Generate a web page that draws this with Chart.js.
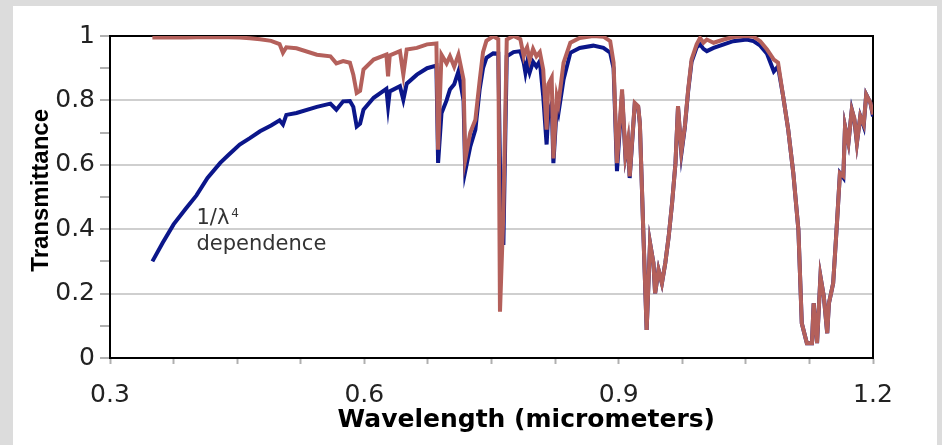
<!DOCTYPE html>
<html>
<head>
<meta charset="utf-8">
<title>Transmittance</title>
<script src="https://cdn.jsdelivr.net/npm/chart.js@4.4.1/dist/chart.umd.min.js"></script>
<style>
    html, body { margin: 0; padding: 0; background: #dcdcdc; }
    #card {
        position: absolute;
        left: 13px;
        top: 6px;
        width: 924px;
        height: 439px;
        background: #ffffff;
    }
</style>
</head>
<body>
<div id="card"><canvas id="transChart"></canvas></div>
<script>
/* ── TRANSMITTANCE CHART ── */

// 1. Data
const wavelength = [
    0.350, 0.362, 0.375, 0.390, 0.402, 0.415, 0.430, 0.440, 0.453, 0.465,
    0.477, 0.490, 0.500, 0.504, 0.508, 0.520,
    0.544, 0.560, 0.567, 0.575, 0.583, 0.587, 0.591, 0.595, 0.599, 0.611,
    0.626, 0.628, 0.630, 0.642, 0.646, 0.650, 0.662, 0.674, 0.685, 0.687,
    0.691, 0.697, 0.701, 0.706, 0.711, 0.717, 0.719, 0.725, 0.731, 0.736,
    0.740, 0.744, 0.752, 0.758, 0.760, 0.764, 0.768, 0.776, 0.784, 0.788,
    0.790, 0.792, 0.795, 0.799, 0.803, 0.807, 0.811, 0.815, 0.817, 0.821,
    0.823, 0.827, 0.829, 0.835, 0.843, 0.854, 0.870, 0.882, 0.890, 0.894,
    0.898, 0.904, 0.908, 0.911, 0.913, 0.919, 0.923, 0.925, 0.929, 0.933,
    0.937, 0.941, 0.943, 0.947, 0.951, 0.955, 0.959, 0.963, 0.967, 0.970,
    0.974, 0.978, 0.982, 0.986, 0.992, 0.996, 1.000, 1.004, 1.012, 1.024,
    1.035, 1.051, 1.059, 1.067, 1.075, 1.083, 1.088, 1.094, 1.100, 1.106,
    1.112, 1.116, 1.122, 1.128, 1.130, 1.134, 1.138, 1.142, 1.146, 1.148,
    1.153, 1.157, 1.161, 1.165, 1.167, 1.171, 1.175, 1.178, 1.181, 1.185,
    1.189, 1.192, 1.197, 1.200,
];

// blue: with Rayleigh scattering (1/λ^4)
const withRayleigh = [
    0.300, 0.357, 0.415, 0.466, 0.505, 0.559, 0.606, 0.631, 0.663, 0.683,
    0.704, 0.722, 0.738, 0.725, 0.755, 0.761,
    0.780, 0.790, 0.771, 0.797, 0.798, 0.780, 0.719, 0.728, 0.771, 0.808,
    0.836, 0.782, 0.828, 0.844, 0.802, 0.852, 0.880, 0.900, 0.908, 0.606,
    0.760, 0.800, 0.834, 0.850, 0.890, 0.800, 0.580, 0.657, 0.709, 0.834,
    0.900, 0.932, 0.946, 0.945, 0.600, 0.351, 0.937, 0.950, 0.953, 0.917,
    0.886, 0.915, 0.886, 0.920, 0.905, 0.922, 0.813, 0.663, 0.760, 0.790,
    0.605, 0.780, 0.761, 0.865, 0.948, 0.963, 0.970, 0.963, 0.948, 0.900,
    0.580, 0.820, 0.626, 0.670, 0.559, 0.790, 0.780, 0.728, 0.398, 0.087,
    0.357, 0.295, 0.201, 0.274, 0.232, 0.295, 0.377, 0.481, 0.605, 0.780,
    0.635, 0.715, 0.830, 0.920, 0.965, 0.974, 0.960, 0.953, 0.963, 0.974,
    0.984, 0.989, 0.984, 0.970, 0.945, 0.890, 0.905, 0.813, 0.709, 0.574,
    0.398, 0.108, 0.046, 0.046, 0.170, 0.046, 0.253, 0.191, 0.077, 0.170,
    0.232, 0.398, 0.574, 0.560, 0.719, 0.668, 0.771, 0.740, 0.668, 0.751,
    0.720, 0.818, 0.792, 0.750,
];

// red: molecular absorption only
const molecularOnly = [
    0.995, 0.995, 0.995, 0.995, 0.996, 0.996, 0.996, 0.996, 0.995, 0.993,
    0.990, 0.985, 0.975, 0.948, 0.965, 0.962,
    0.942, 0.937, 0.915, 0.922, 0.917, 0.880, 0.823, 0.830, 0.896, 0.927,
    0.942, 0.875, 0.940, 0.953, 0.880, 0.958, 0.963, 0.974, 0.977, 0.647,
    0.942, 0.915, 0.937, 0.905, 0.942, 0.865, 0.616, 0.700, 0.740, 0.860,
    0.950, 0.985, 0.999, 0.990, 0.144, 0.450, 0.989, 1.000, 0.990, 0.937,
    0.955, 0.965, 0.925, 0.960, 0.937, 0.950, 0.896, 0.709, 0.850, 0.871,
    0.620, 0.813, 0.790, 0.917, 0.979, 0.994, 1.000, 0.998, 0.984, 0.917,
    0.605, 0.834, 0.630, 0.678, 0.564, 0.792, 0.782, 0.730, 0.398, 0.087,
    0.357, 0.295, 0.201, 0.274, 0.232, 0.295, 0.377, 0.481, 0.605, 0.782,
    0.642, 0.719, 0.834, 0.927, 0.974, 0.994, 0.979, 0.989, 0.979, 0.989,
    0.997, 1.000, 0.998, 0.984, 0.958, 0.927, 0.917, 0.813, 0.709, 0.574,
    0.398, 0.108, 0.046, 0.046, 0.170, 0.046, 0.253, 0.191, 0.077, 0.170,
    0.232, 0.398, 0.574, 0.565, 0.719, 0.668, 0.771, 0.745, 0.668, 0.751,
    0.725, 0.818, 0.792, 0.756,
];

const xTickValues = [0.3, 0.375, 0.45, 0.525, 0.6, 0.675, 0.75, 0.825, 0.9, 0.975, 1.05, 1.125, 1.2];
const xTickLabels = ["0.3", "0.6", "0.9", "1.2"];
const yTickValues = [0, 0.1, 0.2, 0.3, 0.4, 0.5, 0.6, 0.7, 0.8, 0.9, 1];
const yTickLabels = ["0", "0.2", "0.4", "0.6", "0.8", "1"];

const toPoints = (ys) => wavelength.map((x, i) => ({ x: x, y: ys[i] }));
// label only the ticks listed in the label array, blank for the rest
const labelFor = (labels) => (v) => labels.find((s) => Math.abs(parseFloat(s) - v) < 1e-6) || "";

// 2. Small plugins: frame around plot + "1/λ4 dependence" note
const framePlugin = {
    id: "frame",
    beforeDatasetsDraw(chart) {
        const { ctx, chartArea: a } = chart;
        ctx.save();
        ctx.strokeStyle = "#000";
        ctx.lineWidth = 2;
        ctx.beginPath();
        ctx.moveTo(a.left, a.top);
        ctx.lineTo(a.right, a.top);
        ctx.lineTo(a.right, a.bottom);
        ctx.stroke();
        ctx.restore();
    },
};

const notePlugin = {
    id: "note",
    afterDatasetsDraw(chart) {
        const { ctx, scales } = chart;
        const x = scales.x.getPixelForValue(0.402);
        const y1 = scales.y.getPixelForValue(0.417);
        const y2 = scales.y.getPixelForValue(0.336);
        ctx.save();
        ctx.fillStyle = "#333";
        ctx.textBaseline = "alphabetic";
        ctx.font = "21px 'DejaVu Sans'";
        ctx.fillText("1/λ", x, y1);
        const w = ctx.measureText("1/λ").width;
        ctx.font = "12px 'DejaVu Sans'";
        ctx.fillText("4", x + w + 2, y1 - 7);
        ctx.font = "21px 'DejaVu Sans'";
        ctx.fillText("dependence", x, y2);
        ctx.restore();
    },
};

// 3. Chart
const ctx = document.getElementById("transChart").getContext("2d");

const transChart = new Chart(ctx, {
    type: "line",
    data: {
        datasets: [
            {
                label: "Molecular absorption",
                data: toPoints(molecularOnly),
                borderColor: "#b4605b",
                borderWidth: 4,
                pointRadius: 0,
                tension: 0,
                fill: false,
            },
            {
                label: "With Rayleigh scattering",
                data: toPoints(withRayleigh),
                borderColor: "#0b168a",
                borderWidth: 4,
                pointRadius: 0,
                tension: 0,
                fill: false,
            },
        ],
    },
    options: {
        responsive: true,
        maintainAspectRatio: false,
        animation: false,
        layout: { padding: { top: 30, right: 64, left: 0, bottom: 0 } },
        plugins: {
            legend: { display: false },
            tooltip: { enabled: false },
        },
        scales: {
            x: {
                type: "linear",
                min: 0.3,
                max: 1.2,
                afterBuildTicks: (scale) => {
                    scale.ticks = xTickValues.map((v) => ({ value: v }));
                },
                afterFit: (scale) => {
                    scale.height = 87;
                },
                ticks: {
                    autoSkip: false,
                    maxRotation: 0,
                    padding: 16,
                    color: "#222",
                    font: { family: "DejaVu Sans", size: 25 },
                    callback: labelFor(xTickLabels),
                },
                grid: {
                    drawOnChartArea: false,
                    tickLength: 6,
                    tickColor: "#b0b0b0",
                    tickWidth: 2,
                },
                border: { color: "#000", width: 2 },
                title: {
                    display: true,
                    text: "        Wavelength (micrometers)",
                    color: "#000",
                    font: { family: "DejaVu Sans", size: 25, weight: "bold" },
                    padding: { top: 0, bottom: 10 },
                },
            },
            y: {
                min: 0,
                max: 1,
                afterBuildTicks: (scale) => {
                    scale.ticks = yTickValues.map((v) => ({ value: v }));
                },
                afterFit: (scale) => {
                    scale.width = 97;
                },
                ticks: {
                    autoSkip: false,
                    padding: 5,
                    color: "#222",
                    font: { family: "DejaVu Sans", size: 25 },
                    callback: labelFor(yTickLabels),
                },
                grid: {
                    color: (c) =>
                        c.index % 2 === 0 && c.index > 0 && c.index < 10 ? "#cfcfcf" : "rgba(0,0,0,0)",
                    lineWidth: 2,
                    tickLength: 10,
                    tickColor: "#b0b0b0",
                    tickWidth: 2,
                },
                border: { color: "#000", width: 2 },
                title: {
                    display: true,
                    text: "  Transmittance",
                    color: "#000",
                    font: { family: "Liberation Sans", size: 24, weight: "bold" },
                    padding: { top: 14, bottom: 0 },
                },
            },
        },
    },
    plugins: [framePlugin, notePlugin],
});
</script>
</body>
</html>
